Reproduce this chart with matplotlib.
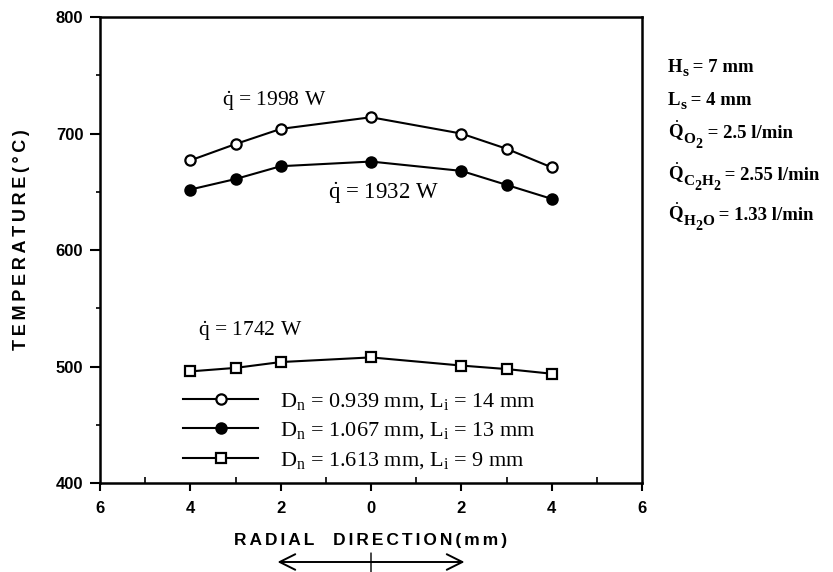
import matplotlib
matplotlib.use("Agg")
import matplotlib.pyplot as plt
from matplotlib.ticker import MultipleLocator, FuncFormatter
import matplotlib.transforms as mtransforms

plt.rcParams['mathtext.fontset'] = 'custom'
plt.rcParams['mathtext.rm'] = 'Liberation Serif'
plt.rcParams['mathtext.it'] = 'Liberation Serif:italic'
plt.rcParams['mathtext.bf'] = 'Liberation Serif:bold'

# Data
radial = [-4, -3, -2, 0, 2, 3, 4]
temp_open = [677, 691, 704, 714, 700, 687, 671]
temp_filled = [652, 661, 672, 676, 668, 656, 644]
temp_square = [496, 499, 504, 508, 501, 498, 494]
labels = [r"D$_\mathrm{n}$ = 0.939 mm, L$_\mathrm{i}$ = 14 mm",
          r"D$_\mathrm{n}$ = 1.067 mm, L$_\mathrm{i}$ = 13 mm",
          r"D$_\mathrm{n}$ = 1.613 mm, L$_\mathrm{i}$ = 9 mm"]
xticks = [-6, -4, -2, 0, 2, 4, 6]
yticks = [400, 500, 600, 700, 800]
xlabel = "RADIAL  DIRECTION(mm)"
ylabel = "TEMPERATURE(°C)"

# side notes: pieces of (text, size, baseline drop in px)
side_lines = [
    [("H", 13.5, 0), ("s", 11, 4), (" = 7 mm", 13.5, 0)],
    [("L", 13.5, 0), ("s", 11, 4), (" = 4 mm", 13.5, 0)],
    [(r"$\dot{\mathbf{Q}}$", 13.5, 0), ("O", 11, 5), ("2", 10, 10), (" = 2.5 l/min", 13.5, 0)],
    [(r"$\dot{\mathbf{Q}}$", 13.5, 0), ("C", 11, 5), ("2", 10, 10), ("H", 11, 5), ("2", 10, 10),
     (" = 2.55 l/min", 13.5, 0)],
    [(r"$\dot{\mathbf{Q}}$", 13.5, 0), ("H", 11, 5), ("2", 10, 10), ("O", 11, 5),
     (" = 1.33 l/min", 13.5, 0)],
]
side_y = [72, 105, 138, 180, 220]


def tracked(s, sep):
    return sep.join(s)


fig = plt.figure(figsize=(8.33, 5.72), dpi=100)
ax = fig.add_axes([100/833, 1-483.3/572, (642-100)/833, (483.3-17)/572])

ms = 7.4
lw = 1.5
l1, = ax.plot(radial, temp_open, '-o', color='black', mfc='white', mec='black',
              ms=ms, mew=1.6, lw=lw, label=labels[0])
l2, = ax.plot(radial, temp_filled, '-o', color='black', mfc='black', mec='black',
              ms=ms, mew=1.6, lw=lw, label=labels[1])
l3, = ax.plot(radial, temp_square, '-s', color='black', mfc='white', mec='black',
              ms=ms, mew=1.6, lw=lw, label=labels[2])

ax.set_xlim(-6, 6)
ax.set_ylim(400, 800)
ax.set_xticks(xticks)
ax.set_yticks(yticks)
ax.xaxis.set_minor_locator(MultipleLocator(1))
ax.yaxis.set_minor_locator(MultipleLocator(50))
ax.xaxis.set_major_formatter(FuncFormatter(lambda v, p: f"{abs(int(round(v)))}"))
ax.tick_params(axis='x', which='major', direction='out', length=6, width=1.5, pad=7)
ax.tick_params(axis='x', which='minor', direction='in', length=4, width=1.2)
ax.tick_params(axis='y', which='major', direction='out', length=7, width=1.5, pad=5)
ax.tick_params(axis='y', which='minor', direction='out', length=3, width=1.2)
sans = ['Liberation Sans', 'DejaVu Sans']
for lab in ax.get_xticklabels() + ax.get_yticklabels():
    lab.set_fontfamily(sans)
    lab.set_fontweight('bold')
    lab.set_fontsize(12)
for s in ax.spines.values():
    s.set_linewidth(1.8)

ax.set_ylabel(tracked(ylabel, "\u2009"), fontfamily=sans, fontweight='bold', fontsize=13)
ax.yaxis.set_label_coords(-0.13, (483.3-240)/466.3)
ax.set_xlabel(tracked(xlabel, "\u200a\u200a"), fontfamily=sans, fontweight='bold',
              fontsize=12.5, labelpad=12)

serif = 'Liberation Serif'
ax.text(-3.3, 728, r"$\dot{\mathrm{q}}$ = 1998 W", fontfamily=serif, fontsize=15.5, ha='left', va='center')
ax.text(-0.95, 649, r"$\dot{\mathrm{q}}$ = 1932 W", fontfamily=serif, fontsize=16.5, ha='left', va='center')
ax.text(-3.83, 531, r"$\dot{\mathrm{q}}$ = 1742 W", fontfamily=serif, fontsize=15.5, ha='left', va='center')

leg = ax.legend(handles=[l1, l2, l3], loc='upper left', bbox_to_anchor=(0.153, 0.198),
                bbox_transform=ax.transAxes, frameon=False,
                prop={'family': serif, 'size': 16},
                handlelength=3.4, handletextpad=0.95, labelspacing=0.38, borderpad=0,
                borderaxespad=0)

# Side annotations, assembled piece by piece
renderer = fig.canvas.get_renderer()
for pieces, yp in zip(side_lines, side_y):
    xpx = 668
    for txt, size, drop in pieces:
        t = fig.text(xpx/833, 1 - (yp + drop)/572, txt, fontfamily=serif, fontsize=size,
                     fontweight='bold', ha='left', va='baseline')
        bb = t.get_window_extent(renderer)
        xpx += bb.width

# Direction arrow below x label
trans = mtransforms.blended_transform_factory(ax.transData, fig.transFigure)
ax.annotate("", xy=(-2.07, 1 - 562/572), xytext=(2.07, 1 - 562/572),
            xycoords=trans, textcoords=trans,
            arrowprops=dict(arrowstyle='<->', lw=1.4, color='black', mutation_scale=28,
                            shrinkA=0, shrinkB=0),
            annotation_clip=False)
ax.annotate("", xy=(0, 1 - 553/572), xytext=(0, 0),
            xycoords=trans, textcoords=trans,
            arrowprops=dict(arrowstyle='-', lw=1.0, color='black', shrinkA=0, shrinkB=0),
            annotation_clip=False)

fig.savefig("out.png", dpi=100)
